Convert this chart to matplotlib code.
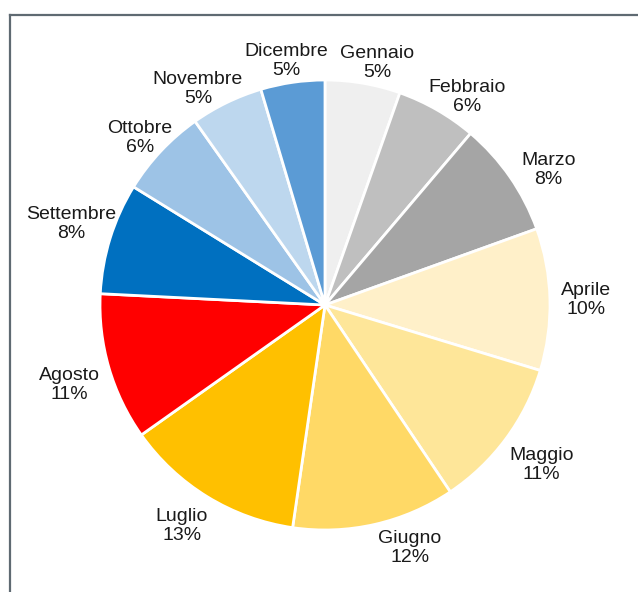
import numpy as np
import matplotlib.pyplot as plt
from matplotlib.lines import Line2D

mesi = ['Gennaio', 'Febbraio', 'Marzo', 'Aprile', 'Maggio', 'Giugno',
        'Luglio', 'Agosto', 'Settembre', 'Ottobre', 'Novembre', 'Dicembre']
quote = [5.4, 5.8, 8.3, 10.2, 10.9, 11.7, 12.9, 10.6, 8.0, 6.4, 5.2, 4.6]
colori = ['#efefef', '#bfbfbf', '#a5a5a5', '#fff0c9', '#fee699', '#ffd966',
          '#ffc000', '#ff0000', '#0070c0', '#9dc3e6', '#bdd7ee', '#5b9bd5']

# distanza delle etichette (in raggi) e piccolo spostamento angolare (gradi)
dist_etich = [1.10, 1.12, 1.16, 1.16, 1.195, 1.145, 1.17, 1.19, 1.185, 1.11, 1.115, 1.10]
sposta_ang = [-2.4, -4.4, -3.7, -0.3, 0.1, 6.5, -1.5, 1.1, -0.4, 1.1, 4.5, 0.7]

plt.rcParams['font.family'] = ['Liberation Sans', 'DejaVu Sans']

fig = plt.figure(figsize=(6.38, 5.92), dpi=100)
ax = fig.add_axes([0, 0, 1, 1])

wedges, _ = ax.pie(quote, colors=colori, startangle=90, counterclock=False,
                   wedgeprops=dict(edgecolor='white', linewidth=2))

for w, m, q, d, s in zip(wedges, mesi, quote, dist_etich, sposta_ang):
    ang = np.deg2rad((w.theta1 + w.theta2) / 2 + s)
    ax.text(d * np.cos(ang), d * np.sin(ang), f'{m}\n{round(q)}%',
            ha='center', va='center', fontsize=14, color='#1a1a1a',
            linespacing=1.15)

ax.set_xlim(-325 / 225, 313 / 225)
ax.set_ylim(-287 / 225, 305 / 225)
ax.set_aspect('auto')
ax.axis('off')

# cornice a sinistra e in alto
fig.add_artist(Line2D([10 / 638, 10 / 638], [0, 1 - 15 / 592], color='#5f6a72', lw=1.6))
fig.add_artist(Line2D([10 / 638, 1], [1 - 15 / 592, 1 - 15 / 592], color='#5f6a72', lw=1.6))

fig.savefig('out.png', dpi=100)
